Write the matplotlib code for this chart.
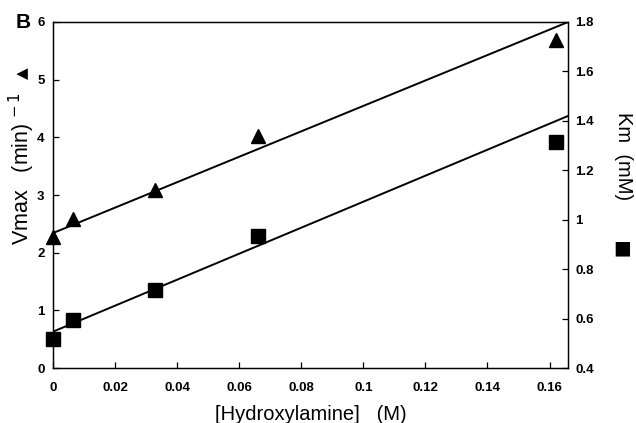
import numpy as np
import matplotlib
matplotlib.use('Agg')
import matplotlib.pyplot as plt

plt.rcParams['font.family'] = ['Liberation Sans', 'DejaVu Sans']

# hydroxylamine concentration (M)
conc = [0.0, 0.0066, 0.033, 0.066, 0.162]
# Vmax (min^-1), left axis, triangles
vmax = [2.27, 2.59, 3.08, 4.02, 5.68]
# Km (mM), right axis, squares
km = [0.516, 0.594, 0.716, 0.934, 1.315]

# fitted lines (end points over the x range)
fit_x = [0.0, 0.166]
vmax_fit = [2.34, 6.0]
km_fit = [0.547, 1.42]

xticks = [0, 0.02, 0.04, 0.06, 0.08, 0.1, 0.12, 0.14, 0.16]
xticklabels = ['0', '0.02', '0.04', '0.06', '0.08', '0.1', '0.12', '0.14', '0.16']
vticks = [0, 1, 2, 3, 4, 5, 6]
kticks = [0.4, 0.6, 0.8, 1.0, 1.2, 1.4, 1.6, 1.8]
kticklabels = ['0.4', '0.6', '0.8', '1', '1.2', '1.4', '1.6', '1.8']

fig = plt.figure(figsize=(6.36, 4.23), dpi=100)
ax = fig.add_axes([0.0833, 0.130, 0.810, 0.818])
ax2 = ax.twinx()

ax.plot(fit_x, vmax_fit, color='black', lw=1.4, zorder=2)
ax.plot(conc, vmax, linestyle='none', marker='^', ms=10, color='black', zorder=3, clip_on=False)
ax2.plot(fit_x, km_fit, color='black', lw=1.4, zorder=2)
ax2.plot(conc, km, linestyle='none', marker='s', ms=10.5, color='black', zorder=3, clip_on=False)

ax.set_xlim(0, 0.166)
ax.set_ylim(0, 6)
ax2.set_ylim(0.4, 1.8)

ax.set_xticks(xticks)
ax.set_xticklabels(xticklabels)
ax.set_yticks(vticks)
ax2.set_yticks(kticks)
ax2.set_yticklabels(kticklabels)

for a in (ax, ax2):
    for s in a.spines.values():
        s.set_linewidth(0.9)
ax.tick_params(axis='both', direction='in', length=4, width=0.9, labelsize=9.5, pad=6)
ax.tick_params(axis='x', pad=10)
ax2.tick_params(axis='y', direction='in', length=4, width=0.9, labelsize=9.5, pad=5)
for lbl in ax.get_xticklabels() + ax.get_yticklabels() + ax2.get_yticklabels():
    lbl.set_fontweight('bold')

ax.set_xlabel('[Hydroxylamine]   (M)', fontsize=14.5, labelpad=8)

# left axis label with the triangle key
fig.text(0.035, 0.602, 'Vmax   (min)$^{\\,-1}$', rotation=90, fontsize=15.5,
         ha='center', va='center')
fig.text(0.035, 0.828, '▲', rotation=90, fontsize=11, ha='center', va='center',
         family=['DejaVu Sans'])

# right axis label with the square key
fig.text(0.980, 0.630, 'Km  (mM)', rotation=-90, fontsize=14.5, ha='center', va='center')
fig.text(0.979, 0.414, '■', fontsize=13.5, ha='center', va='center', family=['DejaVu Sans'])

fig.text(0.036, 0.946, 'B', fontsize=15, fontweight='bold', ha='center', va='center')

fig.savefig('out.png', dpi=100)
